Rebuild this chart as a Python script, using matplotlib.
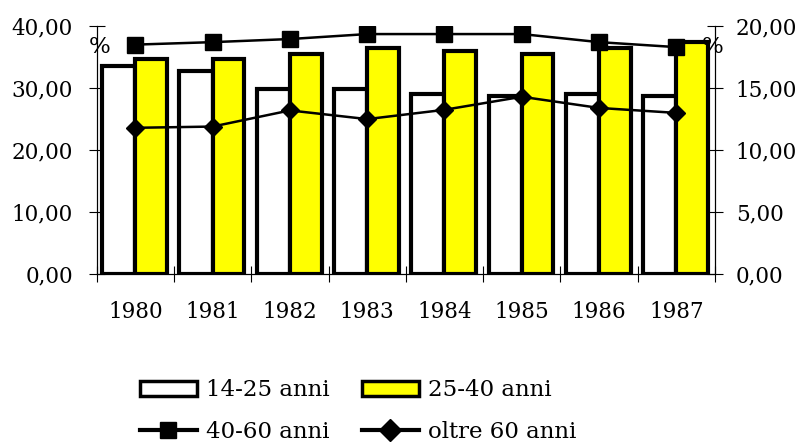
import numpy as np
import matplotlib
matplotlib.use("Agg")
import matplotlib.pyplot as plt
from matplotlib.lines import Line2D
from matplotlib.patches import Patch
from matplotlib.ticker import FuncFormatter, FixedLocator

# data
years = ["1980", "1981", "1982", "1983", "1984", "1985", "1986", "1987"]
anni_14_25 = [33.5, 32.7, 29.9, 29.9, 29.1, 28.7, 29.0, 28.8]
anni_25_40 = [34.7, 34.7, 35.5, 36.4, 35.9, 35.5, 36.5, 37.5]
anni_40_60 = [18.5, 18.7, 18.95, 19.35, 19.35, 19.35, 18.7, 18.3]
oltre_60 = [11.8, 11.9, 13.2, 12.5, 13.25, 14.3, 13.4, 13.0]

plt.rcParams["font.family"] = ["DejaVu Serif"]
FS = 15.5

W, H = 805, 443
fig = plt.figure(figsize=(W / 100, H / 100), dpi=100)
ax = fig.add_axes([96.7 / W, 1 - 274.3 / H, (715 - 96.7) / W, (274.3 - 26) / H])

x = np.arange(len(years))

ax.bar(x, anni_14_25, width=-0.43, align="edge", color="white",
       edgecolor="black", linewidth=3, zorder=2)
ax.bar(x, anni_25_40, width=0.41, align="edge", color="#FFFF00",
       edgecolor="black", linewidth=3, zorder=2)

ax.set_xlim(-0.5, len(years) - 0.5)
ax.set_ylim(0, 40)

comma = FuncFormatter(lambda v, p: f"{v:.2f}".replace(".", ","))

ax.set_yticks([0, 10, 20, 30, 40])
ax.yaxis.set_major_formatter(comma)
ax.tick_params(axis="y", direction="inout", length=12, width=0.8,
               labelsize=FS, pad=11)

# category boundaries as ticks, labels in the middle
ax.xaxis.set_major_locator(FixedLocator(np.arange(-0.5, len(years), 1.0)))
ax.xaxis.set_major_formatter(plt.NullFormatter())
ax.xaxis.set_minor_locator(FixedLocator(x))
ax.set_xticklabels(years, minor=True)
ax.tick_params(axis="x", which="major", direction="inout", length=12, width=0.8)
ax.tick_params(axis="x", which="minor", length=0, labelsize=FS, pad=19)

ax.spines["top"].set_visible(False)
for side in ["left", "right", "bottom"]:
    ax.spines[side].set_linewidth(0.8)

ax2 = ax.twinx()
ax2.set_ylim(0, 20)
ax2.set_yticks([0, 5, 10, 15, 20])
ax2.yaxis.set_major_formatter(comma)
ax2.tick_params(axis="y", direction="inout", length=12, width=0.8,
                labelsize=FS, pad=9)
ax2.spines["top"].set_visible(False)
ax2.spines["right"].set_linewidth(0.8)

ax2.plot(x, anni_40_60, color="black", linewidth=1.8, marker="s",
         markersize=11.5, zorder=3)
ax2.plot(x, oltre_60, color="black", linewidth=1.8, marker="D",
         markersize=9, zorder=3)

fig.text(100 / W, 1 - 47 / H, "%", fontsize=16.5, ha="center", va="center")
fig.text(713 / W, 1 - 47 / H, "%", fontsize=16.5, ha="center", va="center")

handles = [
    Patch(facecolor="white", edgecolor="black", linewidth=2.5, label="14-25 anni"),
    Line2D([], [], color="black", linewidth=3, marker="s", markersize=12,
           label="40-60 anni"),
    Patch(facecolor="#FFFF00", edgecolor="black", linewidth=2.5, label="25-40 anni"),
    Line2D([], [], color="black", linewidth=3, marker="D", markersize=11,
           label="oltre 60 anni"),
]
fig.legend(handles=handles, ncol=2, loc="center",
           bbox_to_anchor=(358 / W, 1 - 411 / H), frameon=False,
           fontsize=16.5, handlelength=2.5, handleheight=0.65,
           handletextpad=0.4, columnspacing=1.4, labelspacing=0.85,
           borderpad=0, borderaxespad=0)

fig.savefig("out.png", dpi=100)
